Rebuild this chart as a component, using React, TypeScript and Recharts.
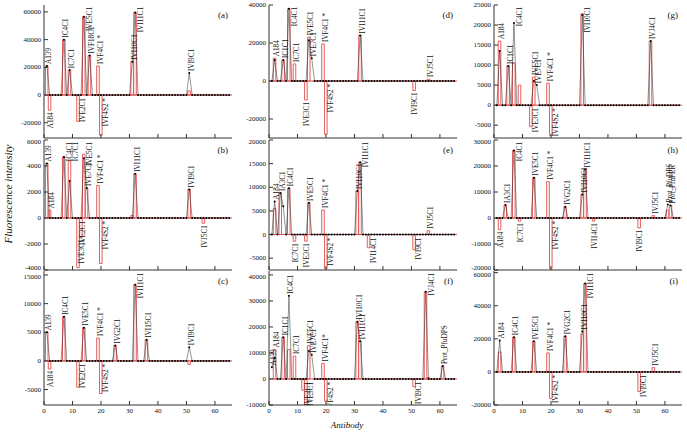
import React from 'react';
import { ComposedChart, Bar, Line, XAxis, YAxis, Scatter, ReferenceLine } from 'recharts';

type Pt = [number, number];
type Lb = [number, string];

const antibodyIndex: number[] = Array.from({ length: 65 }, (_, i) => i + 1);
const xTicks = [0, 10, 20, 30, 40, 50, 60];

// (a)
const lineA: Pt[] = [[1, 21000], [7, 40000], [9, 18000], [14, 56500], [16, 28500], [31, 24000], [32, 59500], [51, 16000]];
const barA: Pt[] = [[1, 21000], [2, -11000], [7, 40000], [9, 18000], [12, -19000], [14, 56500], [16, 28500], [19, 21000], [20, -29000], [31, 24000], [32, 59500], [51, 3000]];
const labelA: Lb[] = [[1, 'A139'], [2, 'A184'], [7, 'IC4C1'], [9, 'IC7C1'], [12, 'IVE2C1'], [14, 'IVE5C1'], [16, 'IVF18C1'], [19, 'IVF4C1 *'], [20, 'IVF4S2 *'], [31, 'IVI10C1'], [32, 'IVI11C1'], [51, 'IVI9C1']];
const ticksA = [-20000, 0, 20000, 40000, 60000];

// (b)
const lineB: Pt[] = [[1, 4200], [7, 4700], [9, 2850], [14, 4600], [15, 2300], [32, 3400], [51, 2200]];
const barB: Pt[] = [[1, 4200], [2, 600], [7, 4700], [9, 4400], [12, -3800], [13, -1500], [14, 4900], [15, 2300], [19, 2500], [20, -3500], [31, 200], [32, 3400], [51, 2200], [56, -400]];
const labelB: Lb[] = [[1, 'A139'], [2, 'A184'], [7, 'IC4C1'], [9, 'IC7C1'], [12, 'IVE2C1'], [13, 'IVE3C1'], [14, 'IVE5C1'], [15, 'IVE7C1'], [19, 'IVF4C1 *'], [20, 'IVF4S2 *'], [32, 'IVI11C1'], [51, 'IVI9C1'], [56, 'IVJ5C1']];
const ticksB = [-4000, -2000, 0, 2000, 4000, 6000];

// (c)
const lineC: Pt[] = [[1, 5000], [7, 7700], [14, 5800], [25, 2700], [32, 13300], [36, 3700], [51, 2400]];
const barC: Pt[] = [[1, 5000], [2, -1400], [7, 7700], [12, -4600], [14, 5800], [19, 4000], [20, -5700], [25, 2700], [32, 13300], [36, 3700], [51, -600]];
const labelC: Lb[] = [[1, 'A139'], [2, 'A184'], [7, 'IC4C1'], [12, 'IVE2C1'], [14, 'IVE5C1'], [19, 'IVF4C1 *'], [20, 'IVF4S2 *'], [25, 'IVG2C1'], [32, 'IVI11C1'], [36, 'IVI15C1'], [51, 'IVI9C1']];
const ticksC = [-5000, 0, 5000, 10000, 15000];

// (d)
const lineD: Pt[] = [[2, 11000], [5, 11000], [7, 38000], [14, 21500], [15, 12000], [32, 24000]];
const barD: Pt[] = [[2, 12000], [5, 11000], [7, 38000], [9, 9000], [13, -10000], [14, 23000], [19, 19500], [20, -28000], [32, 24000], [51, -5000], [56, 1000]];
const labelD: Lb[] = [[2, 'A184'], [5, 'IC1C1'], [7, 'IC4C1'], [9, 'IC7C1'], [13, 'IVE3C1'], [14, 'IVE5C1'], [15, 'IVE7C1'], [19, 'IVF4C1 *'], [20, 'IVF4S2 *'], [32, 'IVI11C1'], [51, 'IVI9C1'], [56, 'IVJ5C1']];
const ticksD = [-20000, 0, 20000, 40000];

// (e)
const lineE: Pt[] = [[2, 7000], [4, 8800], [5, 6000], [7, 9800], [14, 6700], [31, 9200], [32, 15300]];
const barE: Pt[] = [[2, 5500], [4, 8800], [7, 9800], [9, -1400], [13, -1400], [14, 6700], [19, 5200], [20, -7200], [31, 9200], [32, 15300], [35, -2800], [51, -3200], [56, 800]];
const labelE: Lb[] = [[2, 'A184'], [4, 'IA3C1'], [7, 'IC4C1'], [9, 'IC7C1'], [13, 'IVE3C1'], [14, 'IVE5C1'], [19, 'IVF4C1 *'], [20, 'IVF4S2 *'], [31, 'IVI10C1'], [32, 'IVI11C1'], [35, 'IVI14C1'], [51, 'IVI9C1'], [56, 'IVJ5C1']];
const ticksE = [-5000, 0, 5000, 10000, 15000, 20000];

// (f)
const lineF: Pt[] = [[1, 4500], [2, 8200], [5, 16000], [7, 32000], [14, 10800], [15, 9300], [31, 22000], [32, 14500], [55, 33500], [61, 5000]];
const barF: Pt[] = [[2, 11300], [5, 16000], [7, 11300], [9, 8800], [12, -4300], [13, -9800], [14, 12800], [19, 6000], [20, -8500], [31, 22000], [32, 14500], [51, -3000], [55, 33500], [56, 600], [61, 5000]];
const labelF: Lb[] = [[1, 'A139'], [2, 'A184'], [5, 'IC1C1'], [7, 'IC4C1'], [9, 'IC7C1'], [12, 'IVE2C1'], [13, 'IVE3C1'], [14, 'IVE5C1'], [15, 'IVE7C1'], [19, 'IVF4C1*'], [20, 'IVF4S2 *'], [31, 'IVI10C1'], [32, 'IVI11C1'], [51, 'IVI9C1'], [55, 'IVJ4C1'], [61, 'Prot_PfuDPS']];
const ticksF = [-10000, 0, 10000, 20000, 30000, 40000];

// (g)
const lineG: Pt[] = [[2, 13500], [5, 9800], [7, 20500], [14, 6000], [15, 5000], [31, 22500], [55, 16000]];
const barG: Pt[] = [[2, 16000], [5, 9800], [7, 10500], [9, 5000], [13, -5400], [14, 7000], [19, 5500], [20, -7600], [31, 22800], [55, 16000]];
const labelG: Lb[] = [[2, 'A184'], [5, 'IC1C1'], [7, 'IC4C1'], [13, 'IVE3C1'], [14, 'IVE5C1'], [15, 'IVE7C1'], [19, 'IVF4C1 *'], [20, 'IVF4S2 *'], [31, 'IVI10C1'], [55, 'IVJ4C1']];
const ticksG = [-5000, 0, 5000, 10000, 15000, 20000, 25000];

// (h)
const lineH: Pt[] = [[4, 5000], [7, 26000], [14, 15500], [25, 4300], [31, 9000], [32, 18700], [61, 5200], [62, 4800]];
const barH: Pt[] = [[2, -4500], [4, 5000], [7, 26000], [9, -1200], [14, 15500], [19, 14000], [20, -19500], [25, 4300], [31, 9000], [32, 18700], [35, -1200], [51, -3800], [56, 900], [61, 3000], [62, 4800]];
const labelH: Lb[] = [[2, 'A184'], [4, 'IA3C1'], [7, 'IC4C1'], [9, 'IC7C1'], [14, 'IVE5C1'], [19, 'IVF4C1 *'], [20, 'IVF4S2 *'], [25, 'IVG2C1'], [31, 'IVI10C1'], [32, 'IVI11C1'], [35, 'IVI14C1'], [51, 'IVI9C1'], [56, 'IVJ5C1'], [61, 'Prot_PfuDPS'], [62, 'Prot_PfuFER']];
const ticksH = [-20000, -10000, 0, 10000, 20000, 30000];

// (i)
const lineI: Pt[] = [[2, 19000], [7, 21000], [14, 18500], [25, 21500], [31, 24500], [32, 53500]];
const barI: Pt[] = [[2, 12000], [7, 21000], [14, 18500], [19, 11500], [20, -16000], [25, 21500], [31, 23000], [32, 53500], [51, -11800], [56, 2600]];
const labelI: Lb[] = [[2, 'A184'], [7, 'IC4C1'], [14, 'IVE5C1'], [19, 'IVF4C1 *'], [20, 'IVF4S2 *'], [25, 'IVG2C1'], [31, 'IVI10C1'], [32, 'IVI11C1'], [51, 'IVI9C1'], [56, 'IVJ5C1']];
const ticksI = [-20000, 0, 20000, 40000, 60000];

type Cfg = { tag: string; line: Pt[]; bar: Pt[]; labels: Lb[]; ticks: number[]; domain: [number, number]; col: number; row: number };

const panels: Cfg[] = [
  { tag: '(a)', line: lineA, bar: barA, labels: labelA, ticks: ticksA, domain: [-31000, 65000], col: 0, row: 0 },
  { tag: '(b)', line: lineB, bar: barB, labels: labelB, ticks: ticksB, domain: [-4000, 6000], col: 0, row: 1 },
  { tag: '(c)', line: lineC, bar: barC, labels: labelC, ticks: ticksC, domain: [-7700, 15700], col: 0, row: 2 },
  { tag: '(d)', line: lineD, bar: barD, labels: labelD, ticks: ticksD, domain: [-30000, 40000], col: 1, row: 0 },
  { tag: '(e)', line: lineE, bar: barE, labels: labelE, ticks: ticksE, domain: [-7500, 20000], col: 1, row: 1 },
  { tag: '(f)', line: lineF, bar: barF, labels: labelF, ticks: ticksF, domain: [-10000, 41500], col: 1, row: 2 },
  { tag: '(g)', line: lineG, bar: barG, labels: labelG, ticks: ticksG, domain: [-8200, 25000], col: 2, row: 0 },
  { tag: '(h)', line: lineH, bar: barH, labels: labelH, ticks: ticksH, domain: [-20000, 30000], col: 2, row: 1 },
  { tag: '(i)', line: lineI, bar: barI, labels: labelI, ticks: ticksI, domain: [-20000, 61000], col: 2, row: 2 },
];

const COL_LEFT = [44, 269, 494];
const PLOT_W = 188;
const ROW_TOP = [5, 140, 271];
const ROW_H = [133, 130, 134];
const ML = 40, MT = 10, MR = 10, XH = 20;
const FONT = '"Liberation Serif", "Times New Roman", serif';
const AXIS = '#333';

function toMap(pts: Pt[]) {
  const m = new Map<number, number>();
  pts.forEach(([x, v]) => m.set(x, v));
  return m;
}

function Panel({ cfg }: { cfg: Cfg }) {
  const { col, row } = cfg;
  const h = ROW_H[row];
  const lm = toMap(cfg.line);
  const bm = toMap(cfg.bar);
  const data = antibodyIndex.map((x) => ({ x, line: lm.get(x) ?? 0, bar: bm.has(x) ? bm.get(x) : null }));
  const labels = cfg.labels.map(([x, name]) => {
    const l = lm.get(x) ?? 0;
    const b = bm.get(x) ?? 0;
    const up = Math.max(l, b);
    return { x, y: up > 0 ? up : Math.min(l, b), name };
  });
  const [lo, hi] = cfg.domain;
  const zeroY = MT + (h * hi) / (hi - lo);
  const bottom = MT + h;

  const renderLabel = (props: any) => {
    const { cx, cy, payload } = props;
    if (cx == null || cy == null) return <g />;
    const len = payload.name.length * 3.8;
    let tx: number, ty: number, anchor: 'start' | 'end';
    if (payload.y > 0) {
      if (cy - 2 - len < MT) { tx = cx + 6; ty = MT + 2; anchor = 'end'; }
      else { tx = cx + 2.5; ty = cy - 2; anchor = 'start'; }
    } else {
      if (cy + 2 + len > bottom) { tx = cx + 5; ty = zeroY + 3; anchor = 'end'; }
      else { tx = cx + 1; ty = cy + 2; anchor = 'end'; }
    }
    return (
      <text x={tx} y={ty} transform={`rotate(-90 ${tx} ${ty})`} textAnchor={anchor} dominantBaseline="central"
        fontSize={7.2} fontFamily={FONT} fill="#111">{payload.name}</text>
    );
  };

  const renderYTick = (props: any) => {
    const { x, y, payload } = props;
    const v = payload.value;
    let dy = 0;
    if (row < 2 && v === lo) dy = -2;
    if (row > 0 && v === cfg.ticks[cfg.ticks.length - 1] && hi - v < (hi - lo) * 0.04) dy = 2;
    return (
      <text x={x} y={y + dy} textAnchor="end" dominantBaseline="central" fontSize={7} fontFamily={FONT} fill="#111">{v}</text>
    );
  };

  const tickStyle = { fontSize: 7, fill: '#111', fontFamily: FONT };
  return (
    <div style={{ position: 'absolute', left: COL_LEFT[col] - ML, top: ROW_TOP[row] - MT }}>
      <ComposedChart width={PLOT_W + ML + MR} height={h + MT + XH} margin={{ top: MT, right: MR, left: 0, bottom: 0 }} data={data}>
        <XAxis xAxisId="b" dataKey="x" type="number" domain={[0, 66]} ticks={xTicks} interval={0} height={XH}
          tickSize={-4} tickMargin={7} tick={tickStyle} tickFormatter={row === 2 ? (v: number) => String(v) : () => ''}
          axisLine={{ stroke: AXIS }} tickLine={{ stroke: AXIS }} allowDataOverflow />
        <XAxis xAxisId="t" orientation="top" dataKey="x" type="number" domain={[0, 66]} ticks={xTicks} interval={0} height={0}
          mirror tickSize={3} tickFormatter={() => ''} axisLine={{ stroke: AXIS }} tickLine={{ stroke: AXIS }} allowDataOverflow />
        <YAxis yAxisId="l" type="number" domain={cfg.domain} ticks={cfg.ticks} interval={0} width={ML}
          tickSize={-4} tickMargin={7} tick={renderYTick} axisLine={{ stroke: AXIS }} tickLine={{ stroke: AXIS }} allowDataOverflow />
        <YAxis yAxisId="r" orientation="right" type="number" domain={cfg.domain} ticks={cfg.ticks} interval={0} width={0}
          mirror tickSize={3} tickFormatter={() => ''} axisLine={{ stroke: AXIS }} tickLine={{ stroke: AXIS }} allowDataOverflow />
        <ReferenceLine xAxisId="b" yAxisId="l" y={0} stroke="#e04848" strokeWidth={1} />
        <Line xAxisId="b" yAxisId="l" dataKey="line" type="linear" stroke="#2a2a2a" strokeWidth={0.5} fill="none"
          dot={{ r: 1.0, fill: '#000', stroke: 'none' }} activeDot={false} isAnimationActive={false} />
        <Bar xAxisId="b" yAxisId="l" dataKey="bar" barSize={3} fill="none" stroke="#e35e5e" strokeWidth={1} isAnimationActive={false} />
        <Scatter xAxisId="b" yAxisId="l" data={labels} dataKey="y" shape={renderLabel} isAnimationActive={false} />
      </ComposedChart>
    </div>
  );
}

export default function App() {
  return (
    <div style={{ position: 'absolute', left: 0, top: 0, width: 687, height: 434, background: '#fff', overflow: 'hidden' }}>
      {panels.map((p) => <Panel key={p.tag} cfg={p} />)}
      {panels.map((p) => (
        <div key={'t' + p.tag} style={{ position: 'absolute', left: COL_LEFT[p.col] + PLOT_W - 34, width: 30, top: ROW_TOP[p.row] + 5,
          textAlign: 'right', fontSize: 9, lineHeight: '10px', fontFamily: FONT, color: '#111' }}>{p.tag}</div>
      ))}
      <div style={{ position: 'absolute', left: 287, top: 420, width: 120, textAlign: 'center', fontSize: 9, lineHeight: '11px',
        fontStyle: 'italic', fontFamily: FONT, color: '#111' }}>Antibody</div>
      <div style={{ position: 'absolute', left: 8 - 70, top: 194 - 7, width: 140, height: 14, textAlign: 'center', fontSize: 11,
        lineHeight: '14px', fontStyle: 'italic', fontFamily: FONT, color: '#111', transform: 'rotate(-90deg)' }}>Fluorescence intensity</div>
    </div>
  );
}
